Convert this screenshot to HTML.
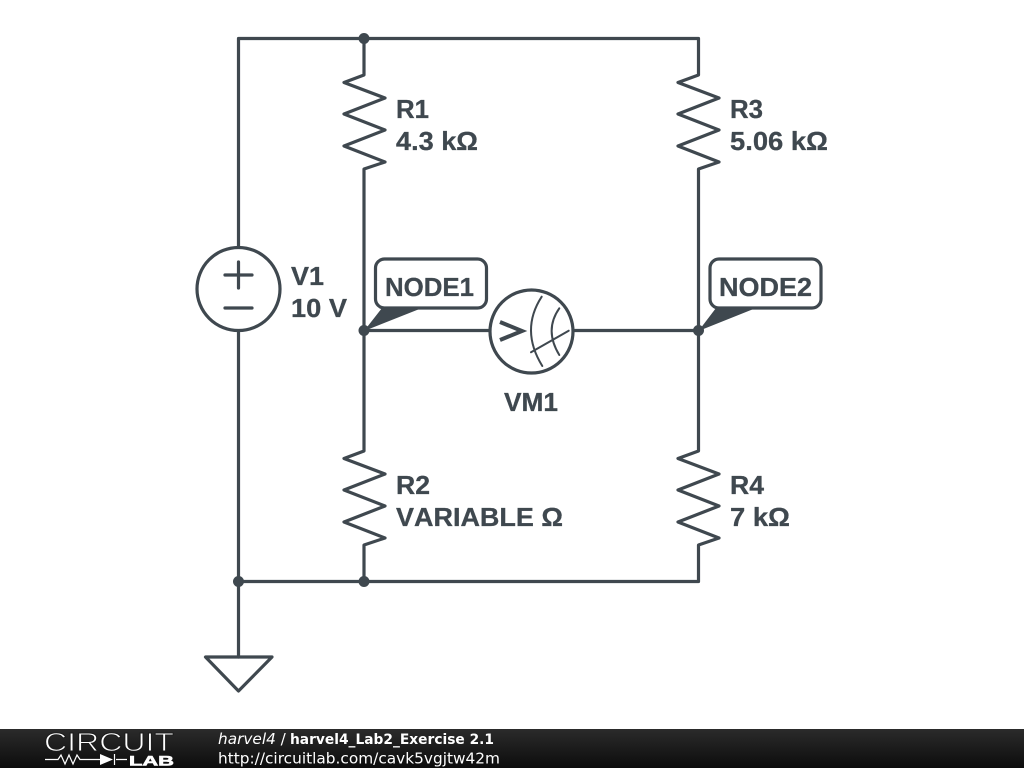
<!DOCTYPE html>
<html><head><meta charset="utf-8"><style>
html,body{margin:0;padding:0;background:#fff;width:1024px;height:768px;overflow:hidden}
svg{display:block}
text{font-family:"Liberation Sans",sans-serif;font-weight:bold;font-size:26px;fill:#3f484f;stroke:#3f484f;stroke-width:0.3px;font-kerning:none}
.f{font-family:"DejaVu Sans",sans-serif;font-size:15.3px;fill:#fff;stroke:none;font-weight:normal;font-kerning:auto}
</style></head><body>
<svg width="1024" height="768" viewBox="0 0 1024 768" xmlns="http://www.w3.org/2000/svg">
<defs><linearGradient id="g" x1="0" y1="0" x2="0" y2="1"><stop offset="0" stop-color="#2b2b2b"/><stop offset="1" stop-color="#0c0c0c"/></linearGradient></defs>
<rect width="1024" height="768" fill="#fff"/>
<g fill="none" stroke="#3f484f" stroke-width="3.200" stroke-linejoin="round" stroke-linecap="round">
<path d="M238.500 247V38.500H698.500V75L678 82.500L719 98L678 114L719 130L678 146L719 162L698.500 169V451L678 458.500L719 474L678 490L719 506L678 522L719 538L698.500 545V581.500H238.500"/>
<path d="M364 38.500V75L344 82.500L385 98L344 114L385 130L344 146L385 162L364 169V451L344 458.500L385 474L344 490L385 506L344 522L385 538L364 545V581.500"/>
<path d="M238.500 331V657"/>
<path d="M205.500 657H272L238.500 691Z"/>
<circle cx="238.500" cy="289" r="41.500"/>
<path d="M225 275H252M238.500 262V288M225 308H252"/>
<path d="M364 330.500H489M574 330.500H698.500"/>
<circle cx="531.500" cy="331.500" r="41.500"/>
<path d="M500 322L522 331L500 340" stroke-width="4" stroke-linecap="butt" stroke-linejoin="miter"/>
<path d="M541.700 296.700Q520 330 542.300 366M559.300 308.300Q544 330 559.300 355M531 352.300L568.700 330.700" stroke-width="2"/>
<rect x="375.500" y="259" width="111" height="49" rx="9"/>
<rect x="710" y="259" width="111" height="49" rx="9"/>
</g>
<g fill="#3f484f">
<path d="M364 331L382 308H422Z"/>
<path d="M698.500 331L716 308H756Z"/>
<circle cx="364" cy="38.500" r="5.500"/>
<circle cx="364" cy="330.500" r="5.500"/>
<circle cx="698.500" cy="330.500" r="5.500"/>
<circle cx="238.500" cy="581.500" r="5.500"/>
<circle cx="364" cy="581.500" r="5.500"/>
</g>
<text x="396" y="118" textLength="33" lengthAdjust="spacingAndGlyphs">R1</text>
<text x="396" y="150" textLength="82" lengthAdjust="spacingAndGlyphs">4.3 kΩ</text>
<text x="730" y="118" textLength="33" lengthAdjust="spacingAndGlyphs">R3</text>
<text x="730" y="150" textLength="98" lengthAdjust="spacingAndGlyphs">5.06 kΩ</text>
<text x="291" y="285" textLength="33" lengthAdjust="spacingAndGlyphs">V1</text>
<text x="291" y="317" textLength="56" lengthAdjust="spacingAndGlyphs">10 V</text>
<text x="385" y="296" textLength="89" lengthAdjust="spacingAndGlyphs">NODE1</text>
<text x="719" y="296" textLength="93" lengthAdjust="spacingAndGlyphs">NODE2</text>
<text x="504" y="411" textLength="54" lengthAdjust="spacingAndGlyphs">VM1</text>
<text x="396" y="494" textLength="34" lengthAdjust="spacingAndGlyphs">R2</text>
<text x="396" y="526" textLength="167" lengthAdjust="spacingAndGlyphs">VARIABLE Ω</text>
<text x="730" y="494" textLength="34" lengthAdjust="spacingAndGlyphs">R4</text>
<text x="730" y="526" textLength="60" lengthAdjust="spacingAndGlyphs">7 kΩ</text>
<rect y="729" width="1024" height="39" fill="url(#g)"/>
<text x="44" y="751" style="font-weight:normal;font-size:26px;fill:#fff;stroke:#1c1c1c;stroke-width:0.9px" textLength="130" lengthAdjust="spacingAndGlyphs">CIRCUIT</text>
<text x="129" y="765.500" style="font-size:14px;fill:#fff;stroke:#fff;stroke-width:.6px" textLength="45" lengthAdjust="spacingAndGlyphs">LAB</text>
<path d="M45 759.500H58L61 755L65 764L69 755L73 764L77 755L80 759.500H100M116 759.500H127M114.500 754V765" fill="none" stroke="#fff" stroke-width="1.200"/>
<path d="M100 754L113 759.500L100 765Z" fill="#fff"/>
<text class="f" x="218" y="744"><tspan font-style="italic">harvel4</tspan> / </text>
<text class="f" x="290" y="744" font-weight="bold" style="font-weight:bold;font-size:14px" textLength="204" lengthAdjust="spacingAndGlyphs">harvel4_Lab2_Exercise 2.1</text>
<text class="f" x="218" y="763.500" textLength="282" lengthAdjust="spacingAndGlyphs">http://circuitlab.com/cavk5vgjtw42m</text>
</svg>
</body></html>
